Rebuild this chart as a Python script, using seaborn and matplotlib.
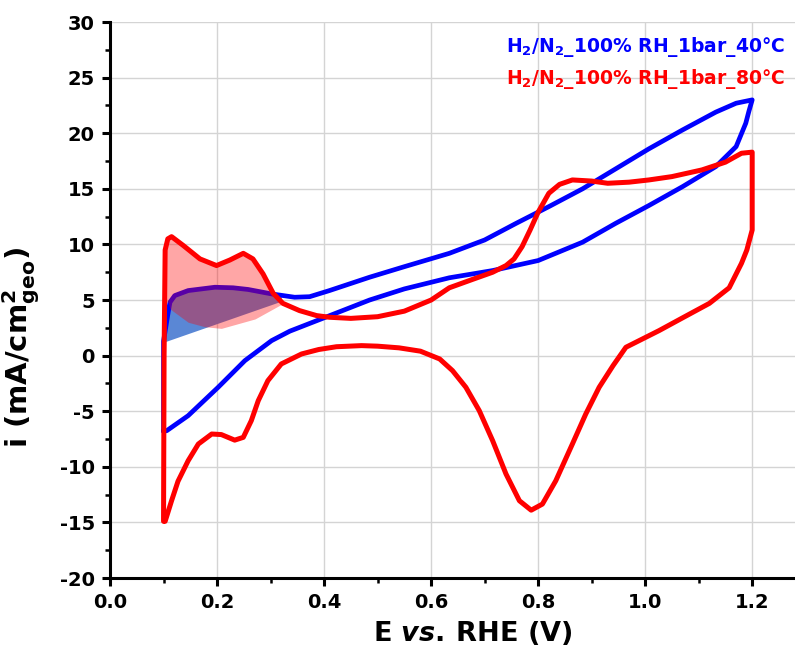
import numpy as np
import pandas as pd
import matplotlib
matplotlib.use('Agg')
import matplotlib.pyplot as plt
import seaborn as sns

# 40 °C cycle (anodic then cathodic sweep)
e_40_up = [0.100, 0.100, 0.104, 0.109, 0.112, 0.121, 0.146, 0.196, 0.230, 0.258, 0.302, 0.345, 0.373,
           0.410, 0.485, 0.550, 0.634, 0.700, 0.759, 0.820, 0.883, 0.945, 1.007, 1.070, 1.132, 1.170, 1.200]
i_40_up = [-6.8, 1.3, 2.5, 4.0, 4.8, 5.4, 5.85, 6.15, 6.1, 5.95, 5.55, 5.25, 5.3,
           5.85, 7.05, 8.0, 9.2, 10.4, 11.9, 13.4, 15.0, 16.8, 18.6, 20.3, 21.9, 22.7, 23.0]
e_40_down = [1.200, 1.194, 1.188, 1.170, 1.132, 1.070, 1.007, 0.945, 0.883, 0.800, 0.715, 0.634, 0.550,
             0.485, 0.400, 0.336, 0.302, 0.252, 0.202, 0.146, 0.106, 0.100]
i_40_down = [23.0, 22.0, 20.9, 18.8, 17.0, 15.2, 13.5, 11.9, 10.2, 8.55, 7.65, 7.0, 6.0,
             5.0, 3.4, 2.2, 1.35, -0.45, -2.85, -5.4, -6.75, -6.8]

# 80 °C cycle
e_80_up = [0.100, 0.101, 0.103, 0.108, 0.115, 0.137, 0.168, 0.199, 0.224, 0.249, 0.267, 0.286, 0.305,
           0.323, 0.354, 0.386, 0.410, 0.450, 0.500, 0.550, 0.600, 0.634, 0.680, 0.715, 0.740, 0.755,
           0.770, 0.785, 0.800, 0.820, 0.840, 0.864, 0.900, 0.930, 0.970, 1.007, 1.050, 1.106, 1.150,
           1.180, 1.200]
i_80_up = [-14.9, 0.0, 9.5, 10.5, 10.7, 9.9, 8.7, 8.1, 8.6, 9.2, 8.7, 7.35, 5.6,
           4.7, 4.05, 3.6, 3.45, 3.35, 3.5, 4.0, 5.0, 6.1, 6.9, 7.5, 8.1, 8.7,
           9.8, 11.3, 12.9, 14.6, 15.4, 15.8, 15.7, 15.5, 15.6, 15.8, 16.1, 16.7, 17.4,
           18.2, 18.3]
e_80_down = [1.200, 1.200, 1.190, 1.180, 1.157, 1.120, 1.070, 1.026, 0.964, 0.940, 0.914, 0.889, 0.864,
             0.833, 0.808, 0.787, 0.765, 0.740, 0.715, 0.690, 0.665, 0.640, 0.616, 0.580, 0.540,
             0.500, 0.470, 0.423, 0.390, 0.358, 0.320, 0.295, 0.277, 0.264, 0.249, 0.233, 0.208,
             0.190, 0.165, 0.146, 0.127, 0.115, 0.103]
i_80_down = [18.3, 11.3, 9.5, 8.3, 6.1, 4.7, 3.4, 2.25, 0.75, -0.9, -2.85, -5.25, -7.95,
             -11.25, -13.35, -13.9, -13.05, -10.65, -7.65, -4.95, -2.85, -1.35, -0.3, 0.4, 0.7,
             0.85, 0.9, 0.8, 0.55, 0.15, -0.75, -2.25, -4.05, -5.85, -7.35, -7.6, -7.1,
             -7.05, -7.95, -9.45, -11.3, -13.05, -14.9]

# baselines of the shaded H-desorption areas
e_base_40 = [0.103, 0.320]
i_base_40 = [1.26, 4.9]
e_base_80 = [0.101, 0.109, 0.112, 0.146, 0.177, 0.208, 0.271, 0.333]
i_base_80 = [4.9, 4.8, 4.2, 3.0, 2.6, 2.45, 3.3, 4.95]

label_40 = 'H$_2$/N$_2$_100% RH_1bar_40°C'
label_80 = 'H$_2$/N$_2$_100% RH_1bar_80°C'
blue = '#0000ff'
red = '#ff0000'

sns.set_style('ticks')
plt.rcParams['font.family'] = ['DejaVu Sans']
plt.rcParams['font.weight'] = 'bold'
plt.rcParams['axes.unicode_minus'] = False
plt.rcParams['mathtext.fontset'] = 'custom'
plt.rcParams['mathtext.rm'] = 'DejaVu Sans:bold'
plt.rcParams['mathtext.it'] = 'DejaVu Sans:italic:bold'
plt.rcParams['mathtext.bf'] = 'DejaVu Sans:bold'
for k in ['text.color', 'axes.labelcolor', 'xtick.color', 'ytick.color']:
    plt.rcParams[k] = 'black'

df40 = pd.DataFrame({'E': e_40_up + e_40_down, 'i': i_40_up + i_40_down})
df40['step'] = range(len(df40))
df80 = pd.DataFrame({'E': e_80_up + e_80_down, 'i': i_80_up + i_80_down})
df80['step'] = range(len(df80))

fig = plt.figure(figsize=(7.95, 6.64), dpi=100)
ax = fig.add_axes([0.1384, 0.1295, 0.8616, 0.8373])

# blue shaded area
g40 = np.linspace(e_base_40[0], e_base_40[-1], 200)
up40 = np.interp(g40, e_40_up[1:], i_40_up[1:])
lo40 = np.interp(g40, e_base_40, i_base_40)
ax.fill_between(g40, lo40, up40, where=up40 >= lo40, color='#5a87d5', lw=0, zorder=1)

sns.lineplot(data=df40, x='E', y='i', sort=False, estimator=None, color=blue, lw=3.4, ax=ax, zorder=2,
             solid_joinstyle='round', solid_capstyle='round')

# red shaded area
g80 = np.linspace(e_base_80[0], e_base_80[-1], 200)
up80 = np.interp(g80, e_80_up[1:], i_80_up[1:])
lo80 = np.interp(g80, e_base_80, i_base_80)
ax.fill_between(g80, lo80, up80, where=up80 >= lo80, color=red, alpha=0.35, lw=0, zorder=3)

sns.lineplot(data=df80, x='E', y='i', sort=False, estimator=None, color=red, lw=3.6, ax=ax, zorder=4,
             solid_joinstyle='round', solid_capstyle='round')

ax.set_xlim(0, 1.28)
ax.set_ylim(-20, 30)
ax.set_xticks(np.arange(0, 1.21, 0.2))
ax.set_xticks(np.arange(0.1, 1.3, 0.2), minor=True)
ax.set_yticks(np.arange(-20, 31, 5))
ax.set_yticks(np.arange(-17.5, 30, 5), minor=True)
ax.set_xticklabels([f'{v:.1f}' for v in np.arange(0, 1.21, 0.2)])
ax.grid(True, which='major', color='#d4d4d4', lw=1.0)
ax.set_axisbelow(True)

sns.despine(ax=ax, top=True, right=True)
for s in ['left', 'bottom']:
    ax.spines[s].set_linewidth(2.2)
    ax.spines[s].set_color('black')
ax.tick_params(which='major', direction='out', length=6, width=2.2, labelsize=14, pad=5)
ax.tick_params(which='minor', direction='out', length=3.5, width=1.8)
for t in ax.get_xticklabels() + ax.get_yticklabels():
    t.set_fontweight('bold')

ax.set_xlabel(r'E $\mathit{vs.}\,$RHE (V)', fontsize=19.5, fontweight='bold')
ax.xaxis.set_label_coords(0.53, -0.074)
ax.set_ylabel(r'i (mA/cm$^2_{\mathrm{geo}}$)', fontsize=21, fontweight='bold')
ax.yaxis.set_label_coords(-0.100, 0.414)

ax.text(0.985, 0.955, label_40, transform=ax.transAxes, ha='right', va='center',
        color=blue, fontsize=13.5, fontweight='bold')
ax.text(0.985, 0.897, label_80, transform=ax.transAxes, ha='right', va='center',
        color=red, fontsize=13.5, fontweight='bold')

fig.savefig('out.png', dpi=100)
